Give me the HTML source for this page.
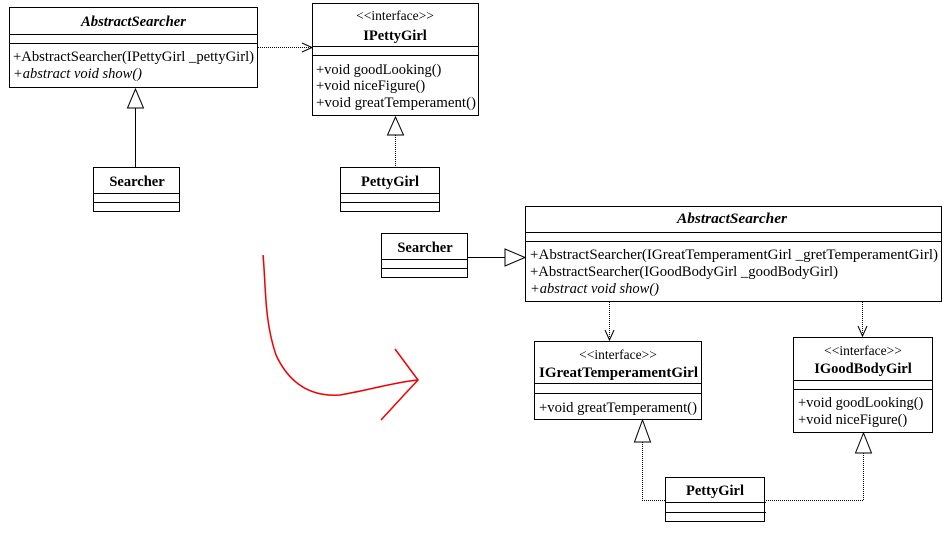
<!DOCTYPE html>
<html><head><meta charset="utf-8"><style>
html,body{margin:0;padding:0;background:#fff;}
svg{display:block;}
text{font-family:"Liberation Serif",serif;font-size:14.5px;fill:#000;}
.b{font-weight:bold;}
.i{font-style:italic;}
.s{font-size:13.5px;}
</style></head><body>
<svg width="950" height="543" viewBox="0 0 950 543" xmlns="http://www.w3.org/2000/svg">
<g fill="none" stroke="#000" stroke-width="1">
<rect x="9.5" y="7.5" width="248" height="80"/>
<line x1="9" y1="34.5" x2="258" y2="34.5"/><line x1="9" y1="43.5" x2="258" y2="43.5"/>
<rect x="312.5" y="3.5" width="166" height="112"/>
<line x1="312" y1="46.5" x2="479" y2="46.5"/><line x1="312" y1="55.5" x2="479" y2="55.5"/>
<rect x="93.5" y="167.5" width="86" height="44"/>
<line x1="93" y1="193.5" x2="180" y2="193.5"/><line x1="93" y1="202.5" x2="180" y2="202.5"/>
<rect x="340.5" y="167.5" width="99" height="44"/>
<line x1="340" y1="193.5" x2="440" y2="193.5"/><line x1="340" y1="202.5" x2="440" y2="202.5"/>
<line x1="135.5" y1="108" x2="135.5" y2="167"/>
<polygon points="135.5,89 127.5,108 143.5,108" fill="#fff"/>
<line x1="395.5" y1="135" x2="395.5" y2="167" stroke-dasharray="1,1"/>
<polygon points="395.5,117 387.5,135 403.5,135" fill="#fff"/>
<line x1="258" y1="47.5" x2="312" y2="47.5" stroke-dasharray="1,1"/>
<polyline points="302,43 312,47.5 302,52"/>

<rect x="525.5" y="206.5" width="416" height="95"/>
<line x1="525" y1="232.5" x2="942" y2="232.5"/><line x1="525" y1="241.5" x2="942" y2="241.5"/>
<rect x="381.5" y="233.5" width="86" height="44"/>
<line x1="381" y1="259.5" x2="468" y2="259.5"/><line x1="381" y1="268.5" x2="468" y2="268.5"/>
<line x1="468" y1="257.5" x2="505" y2="257.5"/>
<polygon points="525,257.5 505,249 505,266" fill="#fff"/>
<rect x="534.5" y="341.5" width="167" height="78"/>
<line x1="534" y1="383.5" x2="702" y2="383.5"/><line x1="534" y1="393.5" x2="702" y2="393.5"/>
<rect x="793.5" y="337.5" width="139" height="95"/>
<line x1="793" y1="380.5" x2="933" y2="380.5"/><line x1="793" y1="389.5" x2="933" y2="389.5"/>
<rect x="665.5" y="477.5" width="99" height="44"/>
<line x1="665" y1="502.5" x2="766" y2="502.5"/><line x1="665" y1="512.5" x2="766" y2="512.5"/>
<g stroke-dasharray="1,1"><line x1="609.5" y1="302" x2="609.5" y2="340"/><line x1="862.5" y1="302" x2="862.5" y2="336"/></g>
<polyline points="605,330 609.5,340 614,330"/>
<polyline points="858,326 862.5,336 867,326"/>
<polyline points="642.5,442 642.5,500.5 665,500.5" stroke-dasharray="1,1"/>
<polygon points="642.5,420 634.5,442 650.5,442" fill="#fff"/>
<polyline points="863.5,453 863.5,500.5 765,500.5" stroke-dasharray="1,1"/>
<polygon points="863.5,433 855.5,453 871.5,453" fill="#fff"/>
</g>
<g fill="none" stroke="#e00" stroke-width="1.5">
<path d="M263,255 C266,285 264,320 276,355 C290,385 312,397 340,395 C370,390 395,382 418,380"/>
<path d="M395,349 L418,380 L404,395 L381,420"/>
</g>
<text x="81" y="26" textLength="105" lengthAdjust="spacingAndGlyphs" class="b i">AbstractSearcher</text>
<text x="13" y="61" textLength="241" lengthAdjust="spacingAndGlyphs">+AbstractSearcher(IPettyGirl _pettyGirl)</text>
<text x="13" y="78" class="i">+abstract void show()</text>
<text x="395" y="20" text-anchor="middle" class="s">&lt;&lt;interface&gt;&gt;</text>
<text x="395" y="40" text-anchor="middle" class="b">IPettyGirl</text>
<text x="316" y="74">+void goodLooking()</text>
<text x="316" y="90">+void niceFigure()</text>
<text x="316" y="107" textLength="160" lengthAdjust="spacingAndGlyphs">+void greatTemperament()</text>
<text x="137" y="186" text-anchor="middle" class="b">Searcher</text>
<text x="390" y="186" text-anchor="middle" class="b">PettyGirl</text>

<text x="677" y="223" textLength="110" lengthAdjust="spacingAndGlyphs" class="b i">AbstractSearcher</text>
<text x="530" y="259" textLength="408" lengthAdjust="spacingAndGlyphs">+AbstractSearcher(IGreatTemperamentGirl _gretTemperamentGirl)</text>
<text x="530" y="276" textLength="308" lengthAdjust="spacingAndGlyphs">+AbstractSearcher(IGoodBodyGirl _goodBodyGirl)</text>
<text x="530" y="293" class="i">+abstract void show()</text>
<text x="425" y="252" text-anchor="middle" class="b">Searcher</text>
<text x="618" y="359" text-anchor="middle" class="s">&lt;&lt;interface&gt;&gt;</text>
<text x="539" y="377" textLength="159" lengthAdjust="spacingAndGlyphs" class="b">IGreatTemperamentGirl</text>
<text x="539" y="412" textLength="158" lengthAdjust="spacingAndGlyphs">+void greatTemperament()</text>
<text x="863" y="355" text-anchor="middle" class="s">&lt;&lt;interface&gt;&gt;</text>
<text x="863" y="373" text-anchor="middle" class="b">IGoodBodyGirl</text>
<text x="798" y="407">+void goodLooking()</text>
<text x="798" y="424">+void niceFigure()</text>
<text x="715" y="495" text-anchor="middle" class="b">PettyGirl</text>
</svg>
</body></html>
